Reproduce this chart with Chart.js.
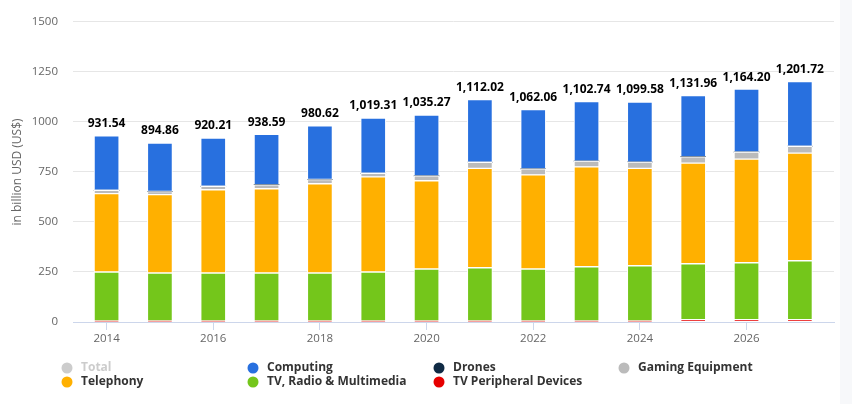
<!DOCTYPE html>
<html>
<head>
<meta charset="utf-8">
<script src="https://cdn.jsdelivr.net/npm/chart.js@4"></script>
<style>
  html, body { margin: 0; padding: 0; background: #fff; }
  #wrap { position: relative; width: 852px; height: 404px; }
  #edge { position: absolute; right: 0; top: 0; width: 12px; height: 404px; background: #f7f8fa; }
</style>
</head>
<body>
<div id="wrap">
  <div id="edge"></div>
  <canvas id="chart" width="852" height="404"></canvas>
</div>
<script>
// Data (billion USD)
const years = [2014, 2015, 2016, 2017, 2018, 2019, 2020, 2021, 2022, 2023, 2024, 2025, 2026, 2027];
const totals = [931.54, 894.86, 920.21, 938.59, 980.62, 1019.31, 1035.27, 1112.02, 1062.06, 1102.74, 1099.58, 1131.96, 1164.20, 1201.72];
const computing = [272.54, 241.86, 241.21, 251.59, 267.62, 275.31, 304.27, 313.02, 296.06, 297.74, 299.58, 304.96, 314.2, 322.72];
const drones = [0.5, 0.5, 0.5, 0.5, 0.5, 0.5, 0.5, 0.5, 0.5, 0.5, 0.5, 0.5, 0.5, 0.5];
const gaming = [16, 15, 17, 20, 21, 18, 24, 30, 30, 29, 31, 32, 35, 34];
const telephony = [392, 392, 416, 421, 446, 475, 441, 497, 470, 499, 487, 503, 518, 538];
const tvRadio = [244, 239, 239, 239, 239, 244, 259, 265, 259, 270, 275, 279, 284, 294];
const tvPeripheral = [6, 6, 6, 6, 6, 6, 6, 6, 6, 6, 6, 12, 12, 12];
const yTicks = [0, 250, 500, 750, 1000, 1250, 1500];

const FONT = "'Open Sans', 'DejaVu Sans', sans-serif";

const series = [
    { label: 'Computing', data: computing, color: '#2870df' },
    { label: 'Drones', data: drones, color: '#0f2a44' },
    { label: 'Gaming Equipment', data: gaming, color: '#bbbbbb' },
    { label: 'Telephony', data: telephony, color: '#ffb000' },
    { label: 'TV, Radio & Multimedia', data: tvRadio, color: '#74c61b' },
    { label: 'TV Peripheral Devices', data: tvPeripheral, color: '#e60000' },
];

// bottom of the stack first
const datasets = series.slice().reverse().map(s => ({
    label: s.label,
    data: s.data.map((v, i) => ({ x: years[i], y: v })),
    backgroundColor: s.color,
    borderColor: '#ffffff',
    borderWidth: s.label === 'Drones' ? 0 : 1,
    borderSkipped: false,
    barThickness: 25,
}));

// legend items in reading order (4 columns)
const legendItems = [
    { label: 'Total', color: '#cccccc', text: '#cccccc' },
    { label: 'Computing', color: '#2870df' },
    { label: 'Drones', color: '#0f2a44' },
    { label: 'Gaming Equipment', color: '#bbbbbb' },
    { label: 'Telephony', color: '#ffb000' },
    { label: 'TV, Radio & Multimedia', color: '#74c61b' },
    { label: 'TV Peripheral Devices', color: '#e60000' },
];

const totalLabels = {
    id: 'totalLabels',
    afterDatasetsDraw(chart) {
        const { ctx, scales } = chart;
        ctx.save();
        ctx.font = 'bold 12px ' + FONT;
        ctx.fillStyle = '#000000';
        ctx.textAlign = 'center';
        ctx.textBaseline = 'middle';
        totals.forEach((t, i) => {
            const x = scales.x.getPixelForValue(years[i]);
            const y = scales.y.getPixelForValue(t) - 12;
            ctx.fillText(t.toLocaleString('en-US', { minimumFractionDigits: 2, maximumFractionDigits: 2 }), x, y);
        });
        ctx.restore();
    },
};

const gridLegend = {
    id: 'gridLegend',
    afterDraw(chart) {
        const { ctx } = chart;
        const colX = [67, 253, 439, 624];
        const rowY = [368, 382];
        ctx.save();
        ctx.font = 'bold 12px ' + FONT;
        ctx.textBaseline = 'middle';
        ctx.textAlign = 'left';
        legendItems.forEach((item, i) => {
            const cx = colX[i % 4];
            const cy = rowY[Math.floor(i / 4)];
            ctx.beginPath();
            ctx.arc(cx, cy, 5.5, 0, Math.PI * 2);
            ctx.fillStyle = item.color;
            ctx.fill();
            ctx.fillStyle = item.text || '#333333';
            ctx.fillText(item.label, cx + 14, cy);
        });
        ctx.restore();
    },
};

new Chart(document.getElementById('chart').getContext('2d'), {
    type: 'bar',
    data: { datasets },
    plugins: [totalLabels, gridLegend],
    options: {
        responsive: false,
        animation: false,
        layout: { padding: { top: 18, right: 18, bottom: 50, left: 0 } },
        plugins: {
            legend: { display: false },
            tooltip: { enabled: false },
        },
        scales: {
            x: {
                type: 'linear',
                stacked: true,
                offset: false,
                min: 2013.37,
                max: 2027.64,
                afterBuildTicks(scale) {
                    scale.ticks = years.filter(y => y % 2 === 0).map(v => ({ value: v }));
                },
                afterFit(scale) { scale.height = 32; },
                ticks: {
                    color: '#666666',
                    font: { family: FONT, size: 11.5 },
                    padding: 2,
                    maxRotation: 0,
                    callback: v => String(v),
                },
                grid: {
                    offset: false,
                    drawOnChartArea: false,
                    drawTicks: true,
                    tickLength: 8,
                    color: '#ccd6eb',
                },
                border: { color: '#ccd6eb', width: 1 },
            },
            y: {
                stacked: true,
                min: 0,
                max: 1500,
                afterBuildTicks(scale) {
                    scale.ticks = yTicks.map(v => ({ value: v }));
                },
                afterFit(scale) { scale.width = 73; },
                ticks: {
                    color: '#666666',
                    font: { family: FONT, size: 11.5 },
                    padding: 15,
                    callback: v => String(v),
                },
                grid: { color: '#e6e6e6', drawTicks: false },
                border: { display: false },
                title: {
                    display: true,
                    text: 'in billion USD (US$)',
                    color: '#666666',
                    font: { family: FONT, size: 12 },
                    padding: { top: 10, bottom: 0 },
                },
            },
        },
    },
});
</script>
</body>
</html>
